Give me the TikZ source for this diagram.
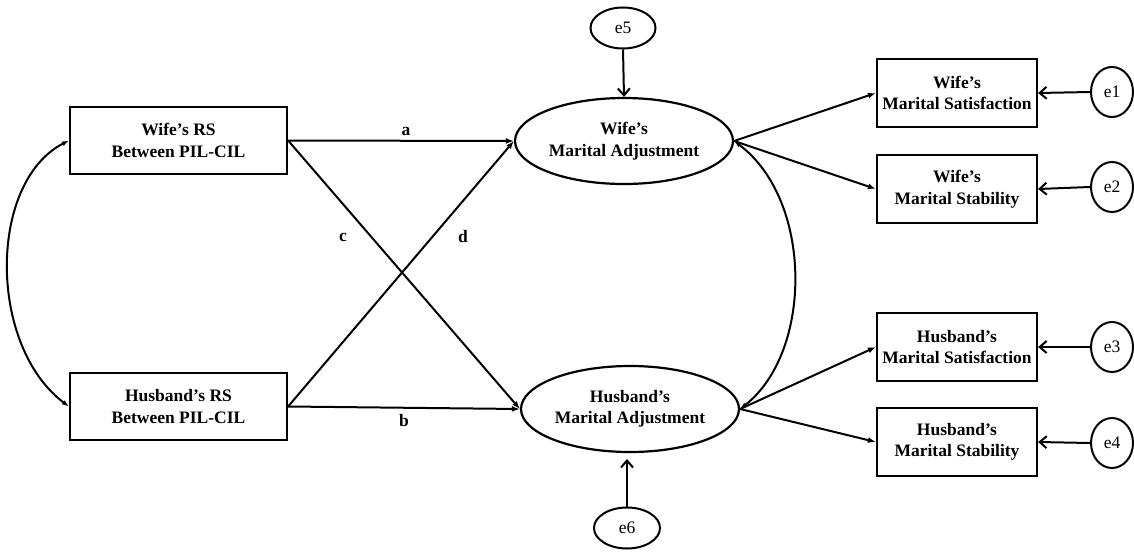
\documentclass[tikz,border=0pt]{standalone}
\usepackage{fontspec}
\setmainfont{Liberation Serif}
\usetikzlibrary{shapes.geometric,arrows.meta}
\begin{document}
\begin{tikzpicture}[x=1pt,y=-1pt,
  every node/.style={font=\fontsize{17.5}{21.5}\selectfont, align=center, inner sep=0pt},
  box/.style={draw, line width=2.2pt, font=\bfseries\fontsize{17.5}{21.5}\selectfont},
  lbox/.style={box, minimum width=217pt, minimum height=67pt},
  rbox/.style={box, minimum width=160pt, minimum height=68pt},
  latent/.style={draw, ellipse, line width=2.2pt, minimum width=218pt, minimum height=86pt, font=\bfseries\fontsize{17.5}{21.5}\selectfont},
  errv/.style={draw, ellipse, line width=2pt},
  lab/.style={font=\bfseries\fontsize{17.5}{21.5}\selectfont},
  path/.style={line width=2pt, -{Latex[length=8pt,width=6pt]}},
  errarrow/.style={line width=2pt, -{Straight Barb[length=7pt,width=12pt]}},
  cov/.style={line width=2pt, {Latex[length=7pt,width=5pt]}-{Latex[length=7pt,width=5pt]}}
]
\useasboundingbox (0,0) rectangle (1134,551);

% left boxes
\node[lbox] (wrs) at (178.5,140.5) {Wife’s RS\\Between PIL-CIL};
\node[lbox] (hrs) at (178.5,406.5) {Husband’s RS\\Between PIL-CIL};

% latent ellipses
\node[latent] (wma) at (624,141) {Wife’s\\Marital Adjustment};
\node[latent] (hma) at (630,409) {Husband’s\\Marital Adjustment};

% right boxes
\node[rbox] (wsat) at (957,93) {Wife’s\\Marital Satisfaction};
\node[rbox] (wsta) at (957,189) {Wife’s\\Marital Stability};
\node[rbox] (hsat) at (957,347) {Husband’s\\Marital Satisfaction};
\node[rbox] (hsta) at (957,442) {Husband’s\\Marital Stability};

% error terms
\node[errv, minimum width=65pt, minimum height=41pt] (e5) at (623,28) {e5};
\node[errv, minimum width=66pt, minimum height=41pt] (e6) at (627,528) {e6};
\node[errv, minimum width=42pt, minimum height=50pt] (e1) at (1112,92) {e1};
\node[errv, minimum width=42pt, minimum height=50pt] (e2) at (1112,187) {e2};
\node[errv, minimum width=42pt, minimum height=50pt] (e3) at (1112,347) {e3};
\node[errv, minimum width=42pt, minimum height=50pt] (e4) at (1112,443) {e4};
\coordinate (h6) at (627,459);

% structural paths
\draw[path] (wrs.east) -- (wma.west);
\draw[path] (hrs.east) -- (hma.west);
\draw[path] (wrs.east) -- (hma.west);
\draw[path] (hrs.east) -- (wma.west);

\node[lab] (la) at (406,131) {a};
\node[lab] (lb) at (404,421) {b};
\node[lab] (lc) at (343,237) {c};
\node[lab] (ld) at (463,237) {d};

% measurement paths
\draw[path] (wma.east) -- (wsat.west);
\draw[path] (wma.east) -- (wsta.west);
\draw[path] (hma.east) -- (hsat.west);
\draw[path] (hma.east) -- (hsta.west);

% error arrows
\draw[errarrow] (e5.south) -- (wma.north);
\draw[errarrow] (e6.north) -- (h6);
\draw[errarrow] (e1.west) -- (wsat.east);
\draw[errarrow] (e2.west) -- (wsta.east);
\draw[errarrow] (e3.west) -- (hsat.east);
\draw[errarrow] (e4.west) -- (hsta.east);

% covariances
\draw[cov] (wrs.west) .. controls +(-81,42) and +(-81,-61) .. (hrs.west);
\draw[cov] (wma.east) .. controls +(79,59) and +(73,-57) .. (hma.east);
\end{tikzpicture}
\end{document}
